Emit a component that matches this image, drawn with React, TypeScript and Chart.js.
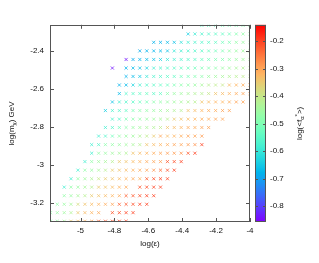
import React, { useEffect, useRef } from "react";
import { Chart, registerables } from "chart.js";
Chart.register(...registerables);

// grid columns (log epsilon), left to right
const xGrid = [
  -5.177, -5.137, -5.096, -5.056, -5.015, -4.974, -4.934, -4.893, -4.853, -4.812,
  -4.771, -4.731, -4.69, -4.65, -4.609, -4.568, -4.528, -4.487, -4.447, -4.406,
  -4.365, -4.325, -4.284, -4.244, -4.203, -4.162, -4.122, -4.081, -4.041, -4.0,
];
// grid rows (log m_chi), top to bottom
const yGrid = [
  -2.268, -2.313, -2.357, -2.402, -2.447, -2.492, -2.536, -2.581, -2.626, -2.67,
  -2.715, -2.76, -2.804, -2.849, -2.894, -2.939, -2.983, -3.028, -3.073, -3.117,
  -3.162, -3.207, -3.251, -3.296,
];
// first column index for each row
const rowStart = [22, 20, 15, 13, 11, 9, 11, 10, 10, 9, 8, 9, 8, 7, 6, 6, 5, 4, 3, 2, 2, 1, 0, 0];
// log(<f_alpha^*>) per row (null = missing)
const rowValues: (number | null)[][] = [
  [-0.55, -0.54, -0.53, -0.52, -0.51, -0.5, -0.49, -0.48],
  [-0.64, -0.59, -0.57, -0.56, -0.55, -0.54, -0.52, -0.49, -0.47, -0.46],
  [-0.68, -0.68, -0.67, -0.66, -0.61, -0.58, -0.57, -0.56, -0.55, -0.54, -0.52, -0.5, -0.47, -0.46, -0.45],
  [-0.69, -0.68, -0.68, -0.67, -0.66, -0.6, -0.58, -0.57, -0.56, -0.55, -0.53, -0.52, -0.5, -0.47, -0.46, -0.45, -0.44],
  [-0.84, -0.69, -0.68, -0.67, -0.66, -0.64, -0.6, -0.58, -0.57, -0.56, -0.55, -0.53, -0.52, -0.5, -0.49, -0.47, -0.46, -0.45, -0.44],
  [-0.84, null, -0.68, -0.67, -0.66, -0.64, -0.58, -0.57, -0.56, -0.55, -0.54, -0.53, -0.52, -0.5, -0.49, -0.48, -0.46, -0.45, -0.44, -0.43, -0.42],
  [-0.68, -0.67, -0.65, -0.6, -0.57, -0.56, -0.55, -0.54, -0.52, -0.51, -0.49, -0.48, -0.46, -0.45, -0.44, -0.43, -0.42, -0.41, -0.4],
  [-0.68, -0.67, -0.63, -0.58, -0.56, -0.55, -0.54, -0.53, -0.5, -0.48, -0.47, -0.46, -0.44, -0.42, -0.41, -0.4, -0.33, -0.32, -0.31, -0.3],
  [-0.67, -0.56, -0.55, -0.54, -0.53, -0.55, -0.54, -0.48, -0.46, -0.45, -0.44, -0.43, -0.42, -0.4, -0.34, -0.33, -0.32, -0.31, -0.3, -0.3],
  [-0.66, -0.58, -0.56, -0.55, -0.53, -0.51, -0.48, -0.47, -0.46, -0.45, -0.44, -0.43, -0.42, -0.34, -0.33, -0.32, -0.32, -0.31, -0.3, -0.3],
  [-0.64, -0.57, -0.56, -0.54, -0.5, -0.48, -0.47, -0.46, -0.45, -0.44, -0.43, -0.42, -0.34, -0.33, -0.32, -0.31, -0.31, -0.3, -0.3],
  [-0.57, -0.56, -0.5, -0.48, -0.47, -0.46, -0.45, -0.44, -0.42, -0.35, -0.34, -0.33, -0.32, -0.31, -0.31, -0.3, -0.3],
  [-0.58, -0.56, -0.52, -0.48, -0.46, -0.45, -0.44, -0.43, -0.41, -0.34, -0.33, -0.32, -0.31, -0.31, -0.3, -0.3],
  [-0.58, -0.56, -0.52, -0.47, -0.46, -0.45, -0.43, -0.41, -0.35, -0.3, -0.33, -0.32, -0.31, -0.3, -0.3, -0.29],
  [-0.58, -0.56, -0.48, -0.47, -0.46, -0.45, -0.44, -0.42, -0.34, -0.33, -0.32, -0.31, -0.3, -0.3, -0.29, -0.28, -0.2],
  [-0.58, -0.47, -0.46, -0.45, -0.44, -0.43, -0.34, -0.33, -0.32, -0.31, -0.3, -0.29, -0.29, -0.28, -0.22, -0.2],
  [-0.58, -0.47, -0.45, -0.44, -0.42, -0.35, -0.34, -0.33, -0.32, -0.31, -0.3, -0.29, -0.22, -0.21, -0.2],
  [-0.58, -0.47, -0.46, -0.44, -0.42, -0.35, -0.34, -0.33, -0.32, -0.31, -0.3, -0.28, -0.24, -0.21, -0.2],
  [-0.58, -0.47, -0.45, -0.43, -0.4, -0.35, -0.34, -0.33, -0.32, -0.31, -0.32, -0.22, -0.21, -0.2, -0.2],
  [-0.58, -0.47, -0.46, -0.44, -0.42, -0.35, -0.34, -0.33, -0.32, -0.31, null, -0.22, -0.21, -0.2, -0.2],
  [-0.47, -0.46, -0.44, -0.42, -0.35, -0.34, -0.33, -0.32, -0.31, -0.23, -0.22, -0.21, -0.2, -0.2],
  [-0.47, -0.46, -0.44, -0.38, -0.34, -0.33, -0.32, -0.31, -0.3, -0.23, -0.22, -0.21, -0.2, -0.2],
  [-0.47, -0.46, -0.45, -0.43, -0.35, -0.33, -0.32, -0.31, null, -0.22, -0.21, -0.2, -0.2],
  [-0.47, -0.46, -0.44, -0.35, -0.33, -0.32, -0.3, -0.23, -0.22, -0.21, -0.2, -0.2],
];

const xTicks = [-5, -4.8, -4.6, -4.4, -4.2, -4];
const yTicks = [-3.2, -3, -2.8, -2.6, -2.4];
const cbTicks = [-0.8, -0.7, -0.6, -0.5, -0.4, -0.3, -0.2];
const xRange = [-5.18, -4.0];
const yRange = [-3.3, -2.265];
const cbRange = [-0.858, -0.14];

const FONT = "'Liberation Sans', Arial, sans-serif";
const FS = 8;
const TEXT = "#111";
const FRAME = "#555";

function paletteRGB(v: number): number[] {
  let t = (v - cbRange[0]) / (cbRange[1] - cbRange[0]);
  t = Math.max(0, Math.min(1, t));
  const r = Math.min(1, Math.abs(2 * t - 0.5));
  const g = Math.sin(Math.PI * t);
  const b = Math.cos((Math.PI / 2) * t);
  return [Math.round(r * 255), Math.round(g * 255), Math.round(b * 255)];
}
function palette(v: number, a = 1): string {
  const [r, g, b] = paletteRGB(v);
  return `rgba(${r},${g},${b},${a})`;
}

const fmt = (v: any) => String(Number(Number(v).toFixed(2)));

type Piece = { t: string; s?: number; dy?: number };
function drawPieces(ctx: CanvasRenderingContext2D, cx: number, cy: number, rot: number, pieces: Piece[]) {
  ctx.save();
  ctx.translate(cx, cy);
  ctx.rotate(rot);
  ctx.textBaseline = "middle";
  ctx.textAlign = "left";
  ctx.fillStyle = TEXT;
  let total = 0;
  for (const p of pieces) {
    ctx.font = `${(p.s ?? 1) * FS}px ${FONT}`;
    total += ctx.measureText(p.t).width;
  }
  let x = -total / 2;
  for (const p of pieces) {
    ctx.font = `${(p.s ?? 1) * FS}px ${FONT}`;
    ctx.fillText(p.t, x, p.dy ?? 0);
    x += ctx.measureText(p.t).width;
  }
  ctx.restore();
}

const framePlugin = {
  id: "framePlugin",
  afterDraw(chart: any) {
    const { ctx, chartArea: a, scales } = chart;
    const xs = scales.x, ys = scales.y, cb = scales.cb;
    ctx.save();
    ctx.strokeStyle = FRAME;
    ctx.lineWidth = 1;
    ctx.strokeRect(Math.round(a.left) + 0.5, Math.round(a.top) + 0.5, Math.round(a.right - a.left) - 1, Math.round(a.bottom - a.top) - 1);
    ctx.beginPath();
    const tl = 4;
    for (const v of xTicks) {
      const p = Math.round(xs.getPixelForValue(v)) + 0.5;
      ctx.moveTo(p, a.bottom); ctx.lineTo(p, a.bottom - tl);
      ctx.moveTo(p, a.top); ctx.lineTo(p, a.top + tl);
    }
    for (const v of yTicks) {
      const p = Math.round(ys.getPixelForValue(v)) + 0.5;
      ctx.moveTo(a.left, p); ctx.lineTo(a.left + tl, p);
      ctx.moveTo(a.right, p); ctx.lineTo(a.right - tl, p);
    }
    ctx.stroke();
    const x0 = Math.round(a.right) + 5;
    const w = 11;
    const top = cb.getPixelForValue(cbRange[1]);
    const bot = cb.getPixelForValue(cbRange[0]);
    const grad = ctx.createLinearGradient(0, bot, 0, top);
    for (let i = 0; i <= 40; i++) {
      const t = i / 40;
      grad.addColorStop(t, palette(cbRange[0] + t * (cbRange[1] - cbRange[0])));
    }
    ctx.fillStyle = grad;
    ctx.fillRect(x0, top, w, bot - top);
    ctx.strokeRect(x0 + 0.5, Math.round(top) + 0.5, w - 1, Math.round(bot - top) - 1);
    ctx.beginPath();
    for (const v of cbTicks) {
      const p = Math.round(cb.getPixelForValue(v)) + 0.5;
      ctx.moveTo(x0, p); ctx.lineTo(x0 + 3, p);
      ctx.moveTo(x0 + w, p); ctx.lineTo(x0 + w - 3, p);
    }
    ctx.stroke();
    ctx.restore();
    drawPieces(ctx, (a.left + a.right) / 2, 244, 0, [{ t: "log(ε)" }]);
    drawPieces(ctx, 12, (a.top + a.bottom) / 2, -Math.PI / 2, [
      { t: "log(m" },
      { t: "χ", s: 0.75, dy: 2.5 },
      { t: ") GeV" },
    ]);
    drawPieces(ctx, 300, (a.top + a.bottom) / 2, -Math.PI / 2, [
      { t: "log(<f" },
      { t: "α", s: 0.75, dy: 2.5 },
      { t: "*", s: 0.75, dy: -3 },
      { t: ">)" },
    ]);
  },
};

export default function App() {
  const ref = useRef<HTMLCanvasElement | null>(null);
  useEffect(() => {
    if (!ref.current) return;
    const pts: { x: number; y: number }[] = [];
    const cols: string[] = [];
    rowValues.forEach((row, r) => {
      row.forEach((v, i) => {
        if (v === null) return;
        pts.push({ x: xGrid[rowStart[r] + i], y: yGrid[r] });
        cols.push(palette(v, 0.75));
      });
    });
    const tickFont = { family: FONT, size: FS };
    const chart = new Chart(ref.current, {
      type: "scatter",
      data: {
        datasets: [
          {
            data: pts,
            pointStyle: "crossRot",
            pointRadius: 2.2,
            pointBorderWidth: 1,
            pointBorderColor: cols,
            pointBackgroundColor: cols,
            clip: 0,
          } as any,
        ],
      },
      options: {
        animation: false,
        responsive: false,
        events: [],
        layout: { padding: { top: 6, left: 0, right: 0, bottom: 0 } },
        plugins: { legend: { display: false }, tooltip: { enabled: false } },
        scales: {
          x: {
            type: "linear",
            position: "bottom",
            min: xRange[0],
            max: xRange[1],
            afterBuildTicks: (s: any) => { s.ticks = xTicks.map((v) => ({ value: v })); },
            afterFit: (s: any) => { s.height = 41; },
            grid: { display: false, drawTicks: false },
            border: { display: false },
            ticks: { font: tickFont, color: TEXT, padding: 4, maxRotation: 0, autoSkip: false, callback: fmt },
          },
          y: {
            type: "linear",
            position: "left",
            min: yRange[0],
            max: yRange[1],
            afterBuildTicks: (s: any) => { s.ticks = yTicks.map((v) => ({ value: v })); },
            afterFit: (s: any) => { s.width = 50; },
            grid: { display: false, drawTicks: false },
            border: { display: false },
            ticks: { font: tickFont, color: TEXT, padding: 6, autoSkip: false, callback: fmt },
          },
          cb: {
            type: "linear",
            position: "right",
            min: cbRange[0],
            max: cbRange[1],
            afterBuildTicks: (s: any) => { s.ticks = cbTicks.map((v) => ({ value: v })); },
            afterFit: (s: any) => { s.width = 69; },
            grid: { display: false, drawTicks: false },
            border: { display: false },
            ticks: { font: tickFont, color: TEXT, padding: 20, autoSkip: false, callback: fmt },
          },
        },
      } as any,
      plugins: [framePlugin],
    });
    return () => chart.destroy();
  }, []);
  return (
    <div style={{ position: "fixed", left: 0, top: 0, width: 319, height: 263, background: "#fff" }}>
      <canvas ref={ref} width={319} height={263} style={{ width: 319, height: 263, display: "block" }} />
    </div>
  );
}
